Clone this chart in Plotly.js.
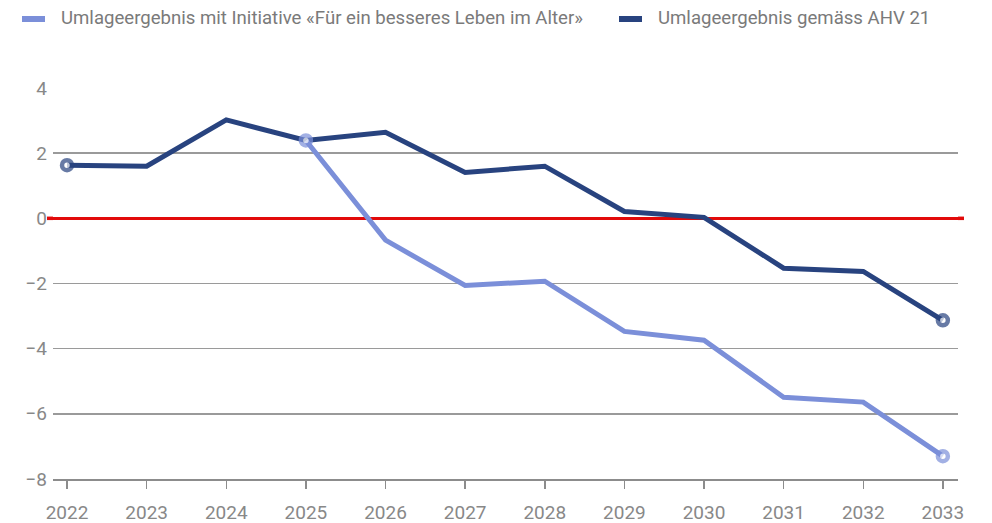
<!DOCTYPE html>
<html>
<head>
<meta charset="utf-8">
<script src="https://cdn.plot.ly/plotly-3.0.1.min.js"></script>
<style>html,body{margin:0;padding:0;background:#fff}#chart{width:992px;height:523px}</style>
</head>
<body>
<div id="chart"></div>
<script>
const years = [2022, 2023, 2024, 2025, 2026, 2027, 2028, 2029, 2030, 2031, 2032, 2033];
const ahv21 = [1.63, 1.6, 3.02, 2.39, 2.64, 1.41, 1.6, 0.21, 0.03, -1.53, -1.63, -3.13];
const initiative = [null, null, null, 2.39, -0.67, -2.06, -1.93, -3.47, -3.74, -5.49, -5.64, -7.3];
const yTicks = [-8, -6, -4, -2, 0, 2, 4];
const nameInit = 'Umlageergebnis mit Initiative «Für ein besseres Leben im Alter»';
const nameAhv = 'Umlageergebnis gemäss AHV 21';

const dark = '#28437f';
const light = '#7b8fd9';

function endMarkers(vals) {
  const idx = vals.map((v, i) => v === null ? -1 : i).filter(i => i >= 0);
  const first = idx[0], last = idx[idx.length - 1];
  return vals.map((v, i) => (i === first || i === last) ? 10 : 0);
}

const traces = [
  {
    x: years, y: ahv21, name: nameAhv, type: 'scatter', mode: 'lines+markers',
    line: {color: dark, width: 5},
    marker: {size: endMarkers(ahv21), color: '#ffffff', line: {color: dark, width: 4.5}},
    cliponaxis: false, showlegend: false, hoverinfo: 'x+y'
  },
  {
    x: years, y: initiative, name: nameInit, type: 'scatter', mode: 'lines+markers',
    line: {color: light, width: 5},
    marker: {size: endMarkers(initiative), color: '#ffffff', line: {color: light, width: 4.5}},
    cliponaxis: false, showlegend: false, connectgaps: false, hoverinfo: 'x+y'
  }
];

const plotL = 53, plotR = 958, plotT = 88, plotB = 479;
const px = x => (x - plotL) / (plotR - plotL);
const py = y => (plotB - y) / (plotB - plotT);

const layout = {
  width: 992, height: 523,
  margin: {l: plotL, r: 992 - plotR, t: plotT, b: 523 - plotB, pad: 0},
  paper_bgcolor: '#ffffff', plot_bgcolor: '#ffffff',
  font: {family: 'Roboto, sans-serif', color: '#888888', size: 18},
  showlegend: false,
  xaxis: {
    range: [2021.824, 2033.19],
    tickvals: years, ticktext: years.map(String),
    showgrid: false, zeroline: false,
    showline: true, linecolor: '#8c8c8c', linewidth: 1.5,
    ticks: 'outside', ticklen: 8, tickwidth: 1.5, tickcolor: '#8c8c8c',
    ticklabelstandoff: 8,
    tickfont: {size: 19, color: '#888888'},
    fixedrange: true
  },
  yaxis: {
    range: [-8, 4],
    tickvals: yTicks, ticktext: yTicks.map(v => v < 0 ? '−' + Math.abs(v) : String(v)),
    showgrid: true, gridcolor: '#9a9a9a', gridwidth: 1.5,
    zeroline: true, zerolinecolor: '#e20a0a', zerolinewidth: 3.5,
    showline: false, ticks: '',
    ticklabelstandoff: 5,
    tickfont: {size: 19, color: '#888888'},
    fixedrange: true
  },
  shapes: [
    {type: 'line', xref: 'paper', yref: 'y', x0: px(47), x1: px(53), y0: 0, y1: 0,
     line: {color: '#e20a0a', width: 3.5}},
    {type: 'line', xref: 'paper', yref: 'y', x0: px(958), x1: px(964), y0: 0, y1: 0,
     line: {color: '#e20a0a', width: 3.5}},
    {type: 'line', xref: 'paper', yref: 'paper', x0: px(22), x1: px(45), y0: py(19), y1: py(19),
     line: {color: light, width: 6}},
    {type: 'line', xref: 'paper', yref: 'paper', x0: px(619), x1: px(642), y0: py(19), y1: py(19),
     line: {color: dark, width: 6}}
  ],
  annotations: [
    {xref: 'paper', yref: 'paper', x: px(59), y: py(18), xanchor: 'left', yanchor: 'middle',
     text: nameInit, showarrow: false, font: {size: 18.6, color: '#7a7a7a'}},
    {xref: 'paper', yref: 'paper', x: px(656), y: py(18), xanchor: 'left', yanchor: 'middle',
     text: nameAhv, showarrow: false, font: {size: 18.6, color: '#7a7a7a'}}
  ]
};

Plotly.newPlot('chart', traces, layout, {displayModeBar: false, staticPlot: true});
</script>
</body>
</html>
